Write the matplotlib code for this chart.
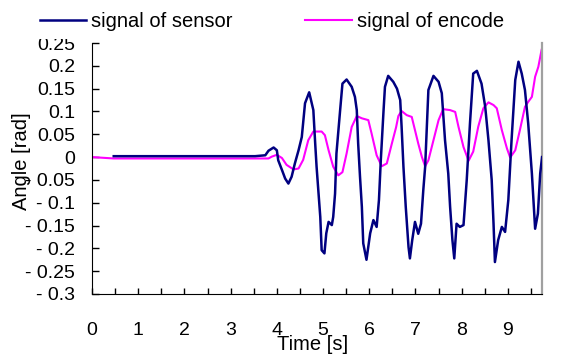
import numpy as np
import matplotlib
matplotlib.use("Agg")
import matplotlib.pyplot as plt
from matplotlib.patches import Rectangle

plt.rcParams['font.family'] = ['Liberation Sans', 'DejaVu Sans']

# signal of sensor (time [s], angle [rad])
sensor_t = [0.47, 3.53, 3.75, 3.82, 3.93, 4.00, 4.03, 4.11, 4.18, 4.25, 4.32, 4.39, 4.47,
            4.54, 4.61, 4.70, 4.79, 4.83, 4.86, 4.94, 4.97, 5.03, 5.07, 5.12, 5.19, 5.22,
            5.26, 5.29, 5.37, 5.42, 5.51, 5.62, 5.69, 5.73, 5.76, 5.80, 5.84, 5.87, 5.94,
            6.02, 6.09, 6.16, 6.21, 6.25, 6.31, 6.34, 6.41, 6.52, 6.60, 6.67, 6.70, 6.74,
            6.79, 6.85, 6.88, 6.93, 6.99, 7.06, 7.12, 7.17, 7.21, 7.28, 7.39, 7.50, 7.57,
            7.64, 7.71, 7.75, 7.80, 7.84, 7.89, 7.96, 8.04, 8.11, 8.18, 8.25, 8.33, 8.43,
            8.51, 8.58, 8.65, 8.69, 8.72, 8.79, 8.87, 8.94, 9.01, 9.08, 9.16, 9.23, 9.30,
            9.37, 9.44, 9.52, 9.59, 9.65, 9.70, 9.74]
sensor_v = [0.002, 0.002, 0.004, 0.014, 0.021, 0.015, -0.007, -0.028, -0.047, -0.058, -0.043,
            -0.014, 0.015, 0.044, 0.118, 0.142, 0.103, 0.030, -0.021, -0.131, -0.204, -0.211,
            -0.167, -0.142, -0.149, -0.131, -0.080, 0.008, 0.103, 0.161, 0.170, 0.154, 0.132,
            0.103, 0.030, -0.043, -0.109, -0.189, -0.225, -0.167, -0.138, -0.153, -0.094,
            -0.007, 0.103, 0.154, 0.178, 0.165, 0.150, 0.125, 0.067, -0.021, -0.109, -0.197,
            -0.222, -0.182, -0.142, -0.168, -0.146, -0.072, -0.021, 0.147, 0.178, 0.165,
            0.140, 0.037, -0.036, -0.109, -0.182, -0.222, -0.146, -0.153, -0.149, -0.050,
            0.074, 0.183, 0.189, 0.161, 0.110, 0.037, -0.050, -0.146, -0.230, -0.182, -0.153,
            -0.164, -0.094, 0.037, 0.169, 0.209, 0.183, 0.147, 0.074, -0.036, -0.157, -0.124,
            -0.036, 0.0]

# signal of encode
encode_t = [0.0, 0.47, 3.82, 3.89, 4.00, 4.11, 4.21, 4.36, 4.47, 4.57, 4.68, 4.79, 4.97,
            5.04, 5.12, 5.22, 5.33, 5.42, 5.51, 5.62, 5.73, 5.84, 5.98, 6.05, 6.16, 6.27,
            6.38, 6.49, 6.58, 6.63, 6.70, 6.81, 6.92, 6.99, 7.06, 7.14, 7.21, 7.28, 7.39,
            7.50, 7.60, 7.75, 7.86, 7.93, 8.04, 8.15, 8.25, 8.36, 8.47, 8.58, 8.69, 8.76,
            8.87, 8.98, 9.05, 9.16, 9.26, 9.37, 9.44, 9.52, 9.59, 9.66, 9.73]
encode_v = [0.0, -0.003, -0.003, 0.001, 0.005, -0.002, -0.017, -0.027, -0.025, -0.006, 0.037,
            0.056, 0.056, 0.048, 0.015, -0.021, -0.040, -0.033, 0.008, 0.066, 0.090, 0.085,
            0.081, 0.052, 0.004, -0.020, -0.014, 0.030, 0.065, 0.090, 0.101, 0.092, 0.088,
            0.059, 0.030, 0.0, -0.020, -0.007, 0.037, 0.081, 0.105, 0.103, 0.099, 0.067,
            0.022, -0.008, 0.012, 0.067, 0.107, 0.120, 0.114, 0.107, 0.059, 0.019, -0.001,
            0.015, 0.059, 0.110, 0.121, 0.132, 0.176, 0.198, 0.235]

y_ticks = [0.25, 0.2, 0.15, 0.1, 0.05, 0, -0.05, -0.1, -0.15, -0.2, -0.25, -0.3]
y_labels = ['0.25', '0.2', '0.15', '0.1', '0.05', '0', '- 0.05', '- 0.1', '- 0.15',
            '- 0.2', '- 0.25', '- 0.3']

fig = plt.figure(figsize=(5.67, 3.54), dpi=100)
ax = fig.add_axes([0.1623, 0.1695, 0.7937, 0.709])

l1, = ax.plot(sensor_t, sensor_v, color='#000080', lw=1.8, label='signal of sensor', zorder=3)
l2, = ax.plot(encode_t, encode_v, color='#ff00ff', lw=1.5, label='signal of encode', zorder=2)

ax.set_xlim(0, 9.74)
ax.set_ylim(-0.3, 0.25)

xt = np.arange(0, 10, 0.5)
ax.set_xticks(xt)
ax.set_xticklabels([str(int(v)) if v == int(v) else '' for v in xt])
ax.set_yticks(y_ticks)
ax.set_yticklabels(y_labels)
ax.tick_params(axis='x', direction='in', length=4, width=1, pad=20, labelsize=14)
ax.tick_params(axis='y', direction='in', length=5, width=1, pad=12, labelsize=14)

ax.spines['top'].set_visible(False)
ax.spines['right'].set_color('#a0a0a0')
ax.spines['right'].set_linewidth(1.6)

ax.set_xlabel('Time [s]', fontsize=14.5)
ax.xaxis.set_label_coords(0.491, -0.165)
ax.set_ylabel('Angle [rad]', fontsize=14.5)
ax.yaxis.set_label_coords(-0.135, 0.53)

# white band that hides the top of the 0.25 label, as in the original
fig.patches.append(Rectangle((0, 1 - 39 / 354), 1, 39 / 354, transform=fig.transFigure,
                             facecolor='white', edgecolor='none', zorder=5))

leg = fig.legend(handles=[l1, l2], loc='center left', bbox_to_anchor=(0.0705, 0.94),
                 ncol=2, frameon=False, fontsize=14.5, handlelength=2.3,
                 handletextpad=0.25, columnspacing=3.6, borderpad=0, borderaxespad=0)
leg.set_zorder(6)

fig.savefig('out.png', dpi=100)
